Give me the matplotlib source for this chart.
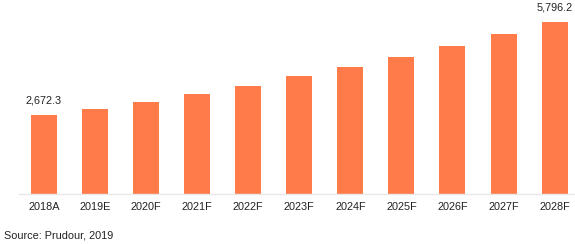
import matplotlib.pyplot as plt

plt.rcParams['font.family'] = ['Liberation Sans', 'DejaVu Sans']

years = ['2018A', '2019E', '2020F', '2021F', '2022F', '2023F',
         '2024F', '2025F', '2026F', '2027F', '2028F']
values = [2672.3, 2873, 3110, 3380, 3650, 3965, 4293, 4630, 5003, 5408, 5796.2]
labelled = {0: '2,672.3', 10: '5,796.2'}

fig = plt.figure(figsize=(5.75, 2.44), dpi=100)
ax = fig.add_axes([19 / 575, 50 / 244, 1 - 19 / 575, 194 / 244])

x = range(len(years))
ax.bar(x, values, width=0.51, color='#FF7B4A')

for i, txt in labelled.items():
    ax.annotate(txt, (i, values[i]), xytext=(0, 7), textcoords='offset points',
                ha='center', va='bottom', fontsize=7.8, color='#222222')

ax.set_xlim(-0.49, 10.4)
ax.set_ylim(0, 6540)
ax.set_xticks(list(x))
ax.set_xticklabels(years, fontsize=7.8, color='#222222')
ax.tick_params(axis='x', length=0, pad=6)
ax.set_yticks([])
for s in ['top', 'right', 'left']:
    ax.spines[s].set_visible(False)
ax.spines['bottom'].set_color('#e8e8e8')
ax.spines['bottom'].set_linewidth(1)

fig.text(4 / 575, 1 - 236 / 244, 'Source: Prudour, 2019', fontsize=7.8,
         color='#222222', va='center', ha='left')

plt.savefig('out.png', dpi=100)
